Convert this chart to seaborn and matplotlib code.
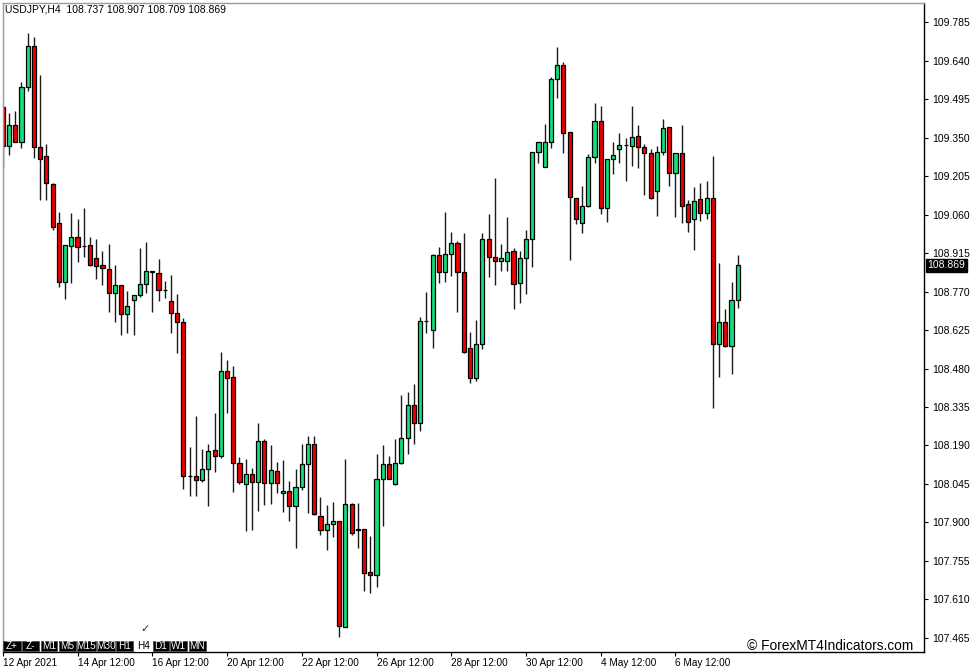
import matplotlib
matplotlib.use("Agg")
import matplotlib.pyplot as plt
import seaborn as sns
import pandas as pd
from matplotlib.patches import Rectangle

symbol = "USDJPY,H4"

opens = [109.464, 109.319, 109.396, 109.332, 109.541, 109.695, 109.314, 109.280, 109.176, 109.027,
         108.807, 108.943, 108.974, 108.942, 108.944, 108.895, 108.869, 108.856, 108.763, 108.793,
         108.684, 108.738, 108.758, 108.797, 108.845, 108.839, 108.776, 108.735, 108.688, 108.656,
         108.075, 108.076, 108.059, 108.102, 108.172, 108.152, 108.470, 108.447, 108.125, 108.044,
         108.082, 108.051, 108.206, 108.050, 108.093, 108.010, 108.018, 107.962, 108.033, 108.119,
         108.196, 107.923, 107.873, 107.893, 107.906, 107.506, 107.971, 107.874, 107.874, 107.712,
         107.703, 108.064, 108.119, 108.044, 108.123, 108.217, 108.341, 108.274, 108.659, 108.624,
         108.906, 108.842, 108.911, 108.952, 108.842, 108.556, 108.445, 108.571, 108.967, 108.901,
         108.884, 108.884, 108.921, 108.801, 108.895, 108.967, 109.294, 109.240, 109.332, 109.572,
         109.624, 109.370, 109.123, 109.027, 109.093, 109.276, 109.412, 109.083, 109.270, 109.307,
         109.321, 109.319, 109.355, 109.313, 109.291, 109.147, 109.294, 109.389, 109.215, 109.292,
         109.099, 109.042, 109.117, 109.065, 109.121, 108.571, 108.654, 108.566, 108.737]
highs = [109.473, 109.441, 109.450, 109.560, 109.745, 109.730, 109.584, 109.326, 109.177, 109.070,
         108.945, 109.065, 109.043, 109.083, 108.976, 108.967, 108.924, 108.948, 108.869, 108.794,
         108.772, 108.756, 108.933, 108.958, 108.848, 108.894, 108.811, 108.831, 108.761, 108.669,
         108.183, 108.302, 108.177, 108.196, 108.311, 108.541, 108.513, 108.489, 108.146, 108.139,
         108.106, 108.276, 108.213, 108.192, 108.127, 108.135, 108.056, 108.103, 108.196, 108.226,
         108.226, 107.997, 107.966, 107.977, 107.907, 108.138, 107.972, 107.972, 107.875, 107.848,
         108.158, 108.192, 108.150, 108.213, 108.379, 108.392, 108.422, 108.673, 108.768, 108.912,
         108.939, 109.070, 108.993, 108.961, 108.989, 108.619, 108.663, 108.992, 109.062, 109.198,
         108.948, 109.050, 108.933, 108.924, 109.002, 109.296, 109.333, 109.401, 109.579, 109.690,
         109.633, 109.371, 109.124, 109.167, 109.287, 109.479, 109.469, 109.270, 109.332, 109.366,
         109.349, 109.469, 109.397, 109.326, 109.308, 109.318, 109.420, 109.390, 109.293, 109.396,
         109.115, 109.163, 109.179, 109.187, 109.280, 108.876, 108.704, 108.806, 108.907]
lows = [109.236, 109.284, 109.332, 109.312, 109.526, 109.274, 109.115, 109.115, 109.002, 108.788,
        108.742, 108.801, 108.880, 108.901, 108.868, 108.816, 108.795, 108.694, 108.656, 108.606,
        108.615, 108.606, 108.750, 108.766, 108.694, 108.735, 108.744, 108.615, 108.540, 108.026,
        108.001, 108.001, 108.054, 107.963, 108.089, 108.142, 108.311, 108.016, 108.044, 107.868,
        107.872, 107.943, 107.966, 107.970, 108.012, 107.941, 107.906, 107.805, 108.022, 107.935,
        107.930, 107.852, 107.796, 107.847, 107.470, 107.505, 107.852, 107.803, 107.643, 107.633,
        107.656, 107.888, 108.063, 108.043, 108.119, 108.158, 108.196, 108.246, 108.613, 108.558,
        108.801, 108.807, 108.828, 108.694, 108.540, 108.424, 108.433, 108.552, 108.826, 108.793,
        108.848, 108.848, 108.703, 108.726, 108.760, 108.863, 109.255, 109.239, 109.309, 109.500,
        109.291, 108.889, 109.023, 108.989, 109.087, 109.253, 109.061, 109.031, 109.211, 109.255,
        109.186, 109.244, 109.234, 109.134, 109.120, 109.056, 109.283, 109.169, 109.052, 109.027,
        108.993, 108.928, 109.037, 109.044, 108.330, 108.449, 108.562, 108.458, 108.709]
closes = [109.319, 109.396, 109.334, 109.539, 109.695, 109.315, 109.270, 109.178, 109.013, 108.807,
          108.944, 108.974, 108.939, 108.941, 108.869, 108.867, 108.857, 108.763, 108.793, 108.684,
          108.715, 108.756, 108.799, 108.846, 108.846, 108.776, 108.776, 108.688, 108.656, 108.076,
          108.075, 108.059, 108.102, 108.169, 108.149, 108.472, 108.443, 108.123, 108.051, 108.083,
          108.051, 108.206, 108.048, 108.097, 108.050, 108.019, 107.962, 108.033, 108.119, 108.196,
          107.931, 107.871, 107.893, 107.906, 107.510, 107.971, 107.859, 107.873, 107.709, 107.703,
          108.064, 108.119, 108.064, 108.123, 108.217, 108.341, 108.274, 108.660, 108.659, 108.906,
          108.845, 108.911, 108.952, 108.842, 108.541, 108.445, 108.571, 108.969, 108.901, 108.884,
          108.895, 108.920, 108.797, 108.895, 108.967, 109.294, 109.332, 109.332, 109.572, 109.624,
          109.366, 109.125, 109.043, 109.093, 109.276, 109.413, 109.083, 109.269, 109.283, 109.321,
          109.321, 109.351, 109.313, 109.291, 109.121, 109.294, 109.386, 109.215, 109.292, 109.093,
          109.031, 109.110, 109.065, 109.122, 108.571, 108.654, 108.565, 108.738, 108.869]

x_tick_pos = [0, 12, 24, 36, 48, 60, 72, 84, 96, 108]
x_tick_labels = ["12 Apr 2021", "14 Apr 12:00", "16 Apr 12:00", "20 Apr 12:00", "22 Apr 12:00",
                 "26 Apr 12:00", "28 Apr 12:00", "30 Apr 12:00", "4 May 12:00", "6 May 12:00"]
y_ticks = [107.465, 107.610, 107.755, 107.900, 108.045, 108.190, 108.335, 108.480, 108.625,
           108.770, 108.915, 109.060, 109.205, 109.350, 109.495, 109.640, 109.785]
timeframes = ["Z+", "Z-", "M1", "M5", "M15", "M30", "H1", "H4", "D1", "W1", "MN"]
active_tf = "H4"
watermark = "\u00a9 ForexMT4Indicators.com"

BULL = "#12E07C"
BEAR = "#F00000"

df = pd.DataFrame({"i": range(len(opens)), "open": opens, "high": highs, "low": lows, "close": closes})
df["bottom"] = df[["open", "close"]].min(axis=1)
df["height"] = (df["close"] - df["open"]).abs()
df["color"] = [BULL if c > o else (BEAR if c < o else "black") for o, c in zip(df["open"], df["close"])]

sns.set_theme(style="white")
plt.rcParams["font.family"] = ["Liberation Sans", "DejaVu Sans"]

W, H = 977, 672
fig = plt.figure(figsize=(W / 100, H / 100), dpi=100)
fig.patch.set_facecolor("white")
L, R, T, B = 2.5, 924, 3, 652
ax = fig.add_axes([L / W, 1 - B / H, (R - L) / W, (B - T) / H])
ax.set_facecolor("white")

ax.vlines(df["i"], df["low"], df["high"], color="#1a1a1a", linewidth=1.0, zorder=1)
ax.bar(df["i"], df["height"], bottom=df["bottom"], width=0.66, color=df["color"],
       edgecolor="black", linewidth=0.9, zorder=2)

ax.set_xlim(-0.05, 147.9)
ax.set_ylim(107.412, 109.857)

ax.yaxis.tick_right()
ax.set_yticks(y_ticks)
ax.set_yticklabels([f"{v:.3f}" for v in y_ticks])
ax.tick_params(axis="y", direction="out", length=3, width=0.8, labelsize=7.5, pad=3,
               colors="black", right=True, left=False)
ax.set_xticks(x_tick_pos)
ax.set_xticklabels(x_tick_labels)
ax.tick_params(axis="x", direction="out", length=3, width=0.8, labelsize=7.2, pad=1.5,
               colors="black", bottom=True)
for lab in ax.get_xticklabels():
    lab.set_horizontalalignment("left")
ax.grid(False)
for side in ["left", "top"]:
    ax.spines[side].set_color("#9a9a9a")
    ax.spines[side].set_linewidth(1.0)
for side in ["right", "bottom"]:
    ax.spines[side].set_color("black")
    ax.spines[side].set_linewidth(1.0)

# current price marker
last = closes[-1]
ax.text(1.004, last, f"{last:.3f}", transform=ax.get_yaxis_transform(), color="white",
        fontsize=7.5, va="center", ha="left",
        bbox=dict(facecolor="black", edgecolor="black", pad=1.2), zorder=5, clip_on=False)

# header
fig.text(5 / W, 1 - 10 / H,
         f"{symbol}  {opens[-1]:.3f} {highs[-1]:.3f} {lows[-1]:.3f} {closes[-1]:.3f}",
         fontsize=7.5, va="center", ha="left", color="black")

# timeframe toolbar
box_x = [(2.7, 20.7), (22, 39.3), (40.7, 57.3), (58.7, 76), (77.3, 95.5), (96.5, 114.7),
         (115.5, 133.3), (134.7, 152), (153.3, 168.7), (170, 187.3), (188.7, 206)]
y0, y1 = 641.0, 650.5
for (xa, xb), tf in zip(box_x, timeframes):
    active = tf == active_tf
    fig.add_artist(Rectangle((xa / W, 1 - y1 / H), (xb - xa) / W, (y1 - y0) / H,
                             transform=fig.transFigure, facecolor="white" if active else "black",
                             edgecolor="white" if active else "#444444", linewidth=0.5, zorder=6))
    fig.text((xa + xb) / 2 / W, 1 - (y0 + y1) / 2 / H, tf, fontsize=7.2, ha="center", va="center",
             color="black" if active else "white", zorder=7)
fig.text(145 / W, 1 - 629 / H, "\u2713", fontsize=8, ha="center", va="center",
         color="#333333", family=["DejaVu Sans"])

fig.text(747 / W, 1 - 646 / H, watermark, fontsize=9.9, ha="left", va="center", color="black")

fig.savefig("out.png", dpi=100, facecolor="white")
